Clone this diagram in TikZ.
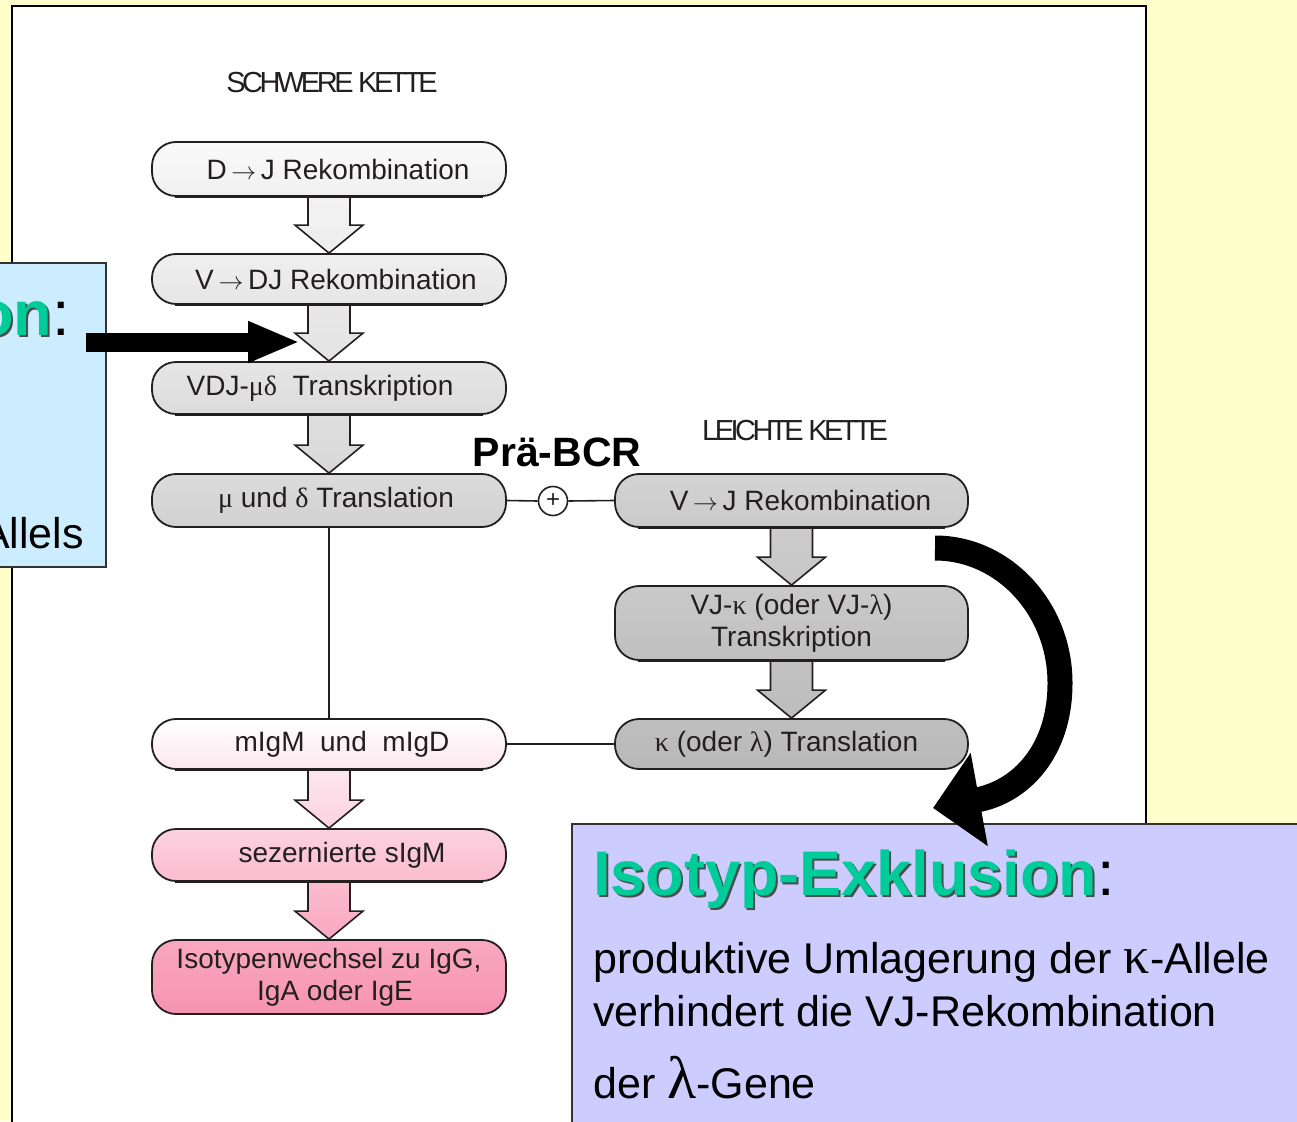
\documentclass[tikz,border=0pt]{standalone}
\usepackage{fontspec}
\setmainfont{Liberation Sans}
\newfontfamily\grkfont{Liberation Serif}
\newfontfamily\ketfont[LetterSpace=-12]{Liberation Sans}
\usetikzlibrary{calc,arrows.meta}
\definecolor{bgyellow}{HTML}{FFFFCC}
\definecolor{bluebox}{HTML}{CCECFF}
\definecolor{lavbox}{HTML}{CCCCFF}
\definecolor{titlegreen}{HTML}{00CC99}
\definecolor{inkgray}{HTML}{231F20}
\definecolor{pinkA}{HTML}{FDE6EE}
\definecolor{pinkB}{HTML}{FCD2E0}
\definecolor{pinkC}{HTML}{FBBCD0}
\definecolor{pinkD}{HTML}{F9A8C2}
\definecolor{pinkE}{HTML}{F693B2}
\newcommand\grk[1]{{\grkfont #1}}
\newcommand\rarr{\,$\rightarrow$\,}
\newcommand\blkarrow[4]{%
  \path[blockarr, top color=#3, bottom color=#4]
    ($(#1.south)+(-21,0)$) -- ($(#2.north)+(-21,-28)$) -- ($(#2.north)+(-34,-28)$)
    -- (#2.north) -- ($(#2.north)+(34,-28)$) -- ($(#2.north)+(21,-28)$)
    -- ($(#1.south)+(21,0)$);}
\tikzset{
  procbox/.style={draw=inkgray, line width=1.8pt, rounded corners=24pt,
    minimum width=354pt, inner sep=0pt, text=inkgray,
    font=\fontsize{28}{32}\selectfont},
  blockarr/.style={draw=inkgray, line width=1.6pt, line join=miter},
  conn/.style={draw=inkgray, line width=1.6pt},
  kette/.style={font=\ketfont\fontsize{29}{32}\selectfont, text=inkgray, inner sep=0pt, anchor=base},
  bodytext/.style={font=\fontsize{43}{50}\selectfont, inner sep=0pt, anchor=base west, text=black},
  titletext/.style={font=\bfseries\fontsize{63}{70}\selectfont, inner sep=0pt},
  fatarrow/.style={draw=black, line width=#1},
}
\begin{document}
\begin{tikzpicture}[x=1pt,y=-1pt]
\useasboundingbox (0,0) rectangle (1297,1121);
\clip (0,0) rectangle (1297,1121);
\fill[bgyellow] (0,0) rectangle (1297,1121);
% white panel
\fill[white] (12,6) rectangle (1146,1130);
\draw[line width=2.2pt] (12,1130) -- (12,6) -- (1146,6) -- (1146,1130);

% left blue box
\node[draw=black!80, line width=1.5pt, fill=bluebox, minimum width=120pt, minimum height=304pt, inner sep=0pt] (allel) at (46,415) {};
\node[titletext, anchor=base east, text=black!70] at (72,337) {on{\mdseries\phantom{:}}};
\node[titletext, anchor=base east] (allelhead) at (70,335) {{\color{titlegreen}on}{\mdseries :}};
\node[bodytext, anchor=base east] (alleltext) at (84,548) {Allels};

% headings
\node[kette] (heavy) at (332,93) {SCHWERE KETTE};
\node[kette] (light) at (795,440) {LEICHTE KETTE};
\node[font=\bfseries\fontsize{41}{44}\selectfont, inner sep=0pt, anchor=base] (prebcr) at (557,466) {Prä-BCR};

% heavy chain boxes
\node[procbox, minimum height=54pt, top color=black!2, bottom color=black!6] (b1) at (329,169) {\hspace*{18pt}D\rarr J Rekombination};
\node[procbox, minimum height=50pt, top color=black!6, bottom color=black!10] (b2) at (329,279) {\hspace*{14pt}V\rarr DJ Rekombination};
\node[procbox, minimum height=52pt, top color=black!10, bottom color=black!14] (b3) at (329,388) {\hspace*{-18pt}VDJ-\grk{μδ}\ \ Transkription};
\node[procbox, minimum height=53pt, top color=black!14, bottom color=black!18] (b4) at (329,500.5) {\hspace*{14pt}\grk{μ} und \grk{δ} Translation};
\node[procbox, minimum height=50pt, top color=white, bottom color=pinkA] (b5) at (329,744) {\hspace*{26pt}mIgM\ \ und\ \ mIgD};
\node[procbox, minimum height=52pt, top color=pinkB, bottom color=pinkC] (b6) at (329,855) {\hspace*{26pt}sezernierte sIgM};
\node[procbox, minimum height=74pt, top color=pinkD, bottom color=pinkE, align=center] (b7) at (329,977) {Isotypenwechsel zu IgG,\\\hspace*{12pt}IgA oder IgE};

% light chain boxes
\node[procbox, minimum width=353pt, minimum height=53pt, top color=black!17, bottom color=black!21] (r1) at (791.5,500.5) {\hspace*{18pt}V\rarr J Rekombination};
\node[procbox, minimum width=353pt, minimum height=74pt, top color=black!21, bottom color=black!25, align=center] (r2) at (791.5,623) {VJ-\grk{κ} (oder VJ-\grk{λ})\\Transkription};
\node[procbox, minimum width=353pt, minimum height=50pt, top color=black!25, bottom color=black!28] (r3) at (791.5,744) {\hspace*{-10pt}\grk{κ} (oder \grk{λ}) Translation};

% block arrows
\blkarrow{b1}{b2}{black!5}{black!7}
\blkarrow{b2}{b3}{black!9}{black!11}
\blkarrow{b3}{b4}{black!13}{black!15}
\blkarrow{r1}{r2}{black!20}{black!22}
\blkarrow{r2}{r3}{black!24}{black!26}
\blkarrow{b5}{b6}{pinkA}{pinkB}
\blkarrow{b6}{b7}{pinkC}{pinkD}
% redraw boxes' bottom borders on top of arrow bases
\foreach \bx in {b1,b2,b3,b5,b6,r1,r2}{
  \draw[inkgray, line width=1.8pt] ($(\bx.south west)+(24,0)$) -- ($(\bx.south east)+(-24,0)$);
}

% connectors
\node[circle, draw=inkgray, line width=1.6pt, fill=white, minimum size=29pt, inner sep=0pt, text=inkgray, font=\fontsize{24}{24}\selectfont] (plus) at (553,501) {+};
\draw[conn] (b4.east) -- (plus.west);
\draw[conn] (plus.east) -- (r1.west);
\draw[conn] (b4.south) -- (b5.north);
\draw[conn] (b5.east) -- (r3.west);

% isotype exclusion box
\node[draw=black!80, line width=1.5pt, fill=lavbox, minimum width=740pt, minimum height=310pt, anchor=north west, inner sep=0pt] (isobox) at (571,823) {};
\node[titletext, anchor=base west, text=black!70] at (595,897) {Isotyp-Exklusion};
\node[titletext, anchor=base west] (isohead) at (593,895) {{\color{titlegreen}Isotyp-Exklusion}{\mdseries :}};
\node[bodytext] (iso1) at (593,973) {produktive Umlagerung der {\grkfont\fontsize{52}{52}\selectfont κ}-Allele};
\node[bodytext] (iso2) at (593,1026) {verhindert die VJ-Rekombination};
\node[bodytext] (iso3) at (593,1098) {der {\grkfont\fontsize{60}{60}\selectfont λ}-Gene};

% black arrows
\coordinate (pstart) at (86,342);
\coordinate (ptip) at (300,342);
\draw[fatarrow=19pt, -{Triangle[length=52pt,width=38pt]}] (pstart) -- (ptip);
\coordinate (cstart) at (935,548);
\coordinate (cmid) at (1060,683);
\coordinate (cend) at (933,808);
\draw[fatarrow=25pt, -{Triangle[length=47pt,width=92pt]}] (cstart) .. controls (1004,548) and (1060,609) .. (cmid) .. controls (1060,752) and (1020,792) .. (cend);
\end{tikzpicture}
\end{document}
